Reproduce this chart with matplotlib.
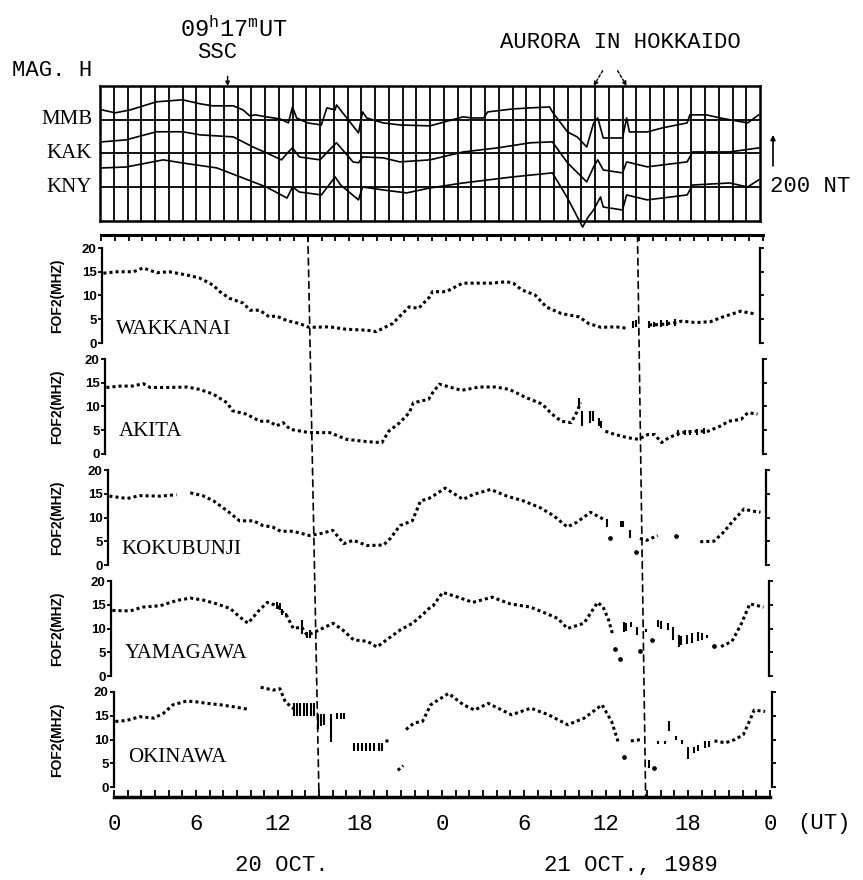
import numpy as np
import matplotlib
matplotlib.use("Agg")
import matplotlib.pyplot as plt
from matplotlib.patches import ConnectionPatch

nan = np.nan

# ---- magnetogram H traces (hours from 20 Oct 00 UT, deviation in nT) ----
mmb_h = [0.15, 1.1, 2.2, 4.1, 6.0, 7.3, 8.2, 9.7, 10.4, 10.9, 11.3, 12.1, 13.1, 13.7, 14.0, 14.3,
         15.1, 16.1, 16.5, 17.1, 17.2, 18.8, 19.1, 19.4, 20.6, 21.8, 24.0, 26.4, 27.1, 27.9, 28.2,
         30.0, 31.3, 32.7, 32.9, 34.0, 34.7, 35.4, 35.9, 36.2, 36.6, 38.0, 38.3, 38.5, 39.8, 40.9,
         42.7, 42.9, 44.1, 45.1, 47.1, 47.9]
mmb_nt = [0, -19, 0, 52, 65, 39, 26, 26, 0, -39, -32, -45, -58, -84, 19, -52,
          -84, -97, 13, 0, 32, -148, -13, -52, -84, -97, -103, -45, -52, -52, -13,
          6, 13, 19, -13, -142, -174, -239, -84, -52, -181, -181, -52, -142, -142, -116,
          -84, -32, -32, -52, -84, -32]
kak_h = [0.15, 1.9, 4.1, 6.0, 7.3, 9.7, 11.1, 12.1, 13.2, 13.7, 14.0, 14.5, 16.0, 16.9, 17.2,
         18.4, 18.8, 19.1, 20.6, 21.8, 24.0, 26.4, 28.9, 31.3, 32.9, 34.0, 35.4, 35.9, 36.2, 36.6,
         38.0, 38.3, 39.8, 42.7, 43.1, 45.8, 47.9]
kak_nt = [0, 13, 65, 65, 45, 32, -32, -71, -116, -65, -39, -97, -116, -32, -6,
          -129, -135, -97, -103, -129, -116, -65, -39, -6, 0, -135, -258, -161, -116, -181,
          -200, -129, -161, -129, -65, -65, -39]
kny_h = [0.15, 1.9, 4.6, 6.0, 8.5, 10.2, 12.1, 13.6, 14.0, 14.5, 16.1, 17.1, 17.5, 18.8, 19.1,
         20.6, 22.3, 24.0, 26.4, 30.0, 32.9, 34.0, 35.1, 35.5, 35.9, 36.4, 36.6, 38.0, 38.3, 39.8,
         42.7, 43.1, 45.8, 47.1, 47.9]
kny_nt = [0, 6, 52, 32, 0, -58, -123, -194, -123, -155, -174, -58, -110, -206, -123,
          -142, -161, -129, -97, -58, -32, -194, -381, -316, -271, -187, -252, -271, -174, -206,
          -174, -110, -97, -123, -77]

mag_names = ["MMB", "KAK", "KNY"]

# ---- foF2 (MHz) per station ----
stations = ["WAKKANAI", "AKITA", "KOKUBUNJI", "YAMAGAWA", "OKINAWA"]

wak_h = [0.1, 1.1, 2.3, 3.0, 4.0, 4.9, 6.2, 7.1, 8.1, 8.6, 9.3, 10.3, 10.8, 11.5, 12.2, 12.7, 13.5,
         14.4, 15.1, 16.6, 17.8, 19.3, 20.0, 21.2, 22.4, 23.1, 23.9, 24.1, 25.1, 26.3, 27.5, 28.4,
         29.5, 30.0, 30.6, 31.6, 32.4, 33.5, 34.8, 35.5, 36.4, 37.5, 38.3, 38.6, 39.3, 39.9, 40.8,
         41.8, 42.3, 43.3, 44.4, 45.2, 46.6, 47.1, 47.7]
wak_v = [14.7, 15.0, 15.0, 15.8, 14.8, 15.0, 14.3, 13.7, 12.2, 10.8, 9.4, 8.4, 6.9, 6.9, 5.5, 5.7, 4.7,
         4.1, 3.3, 3.4, 2.9, 2.7, 2.4, 4.1, 7.6, 7.3, 9.7, 10.8, 10.8, 12.6, 12.6, 12.6,
         12.9, 12.6, 11.2, 10.1, 7.6, 6.2, 5.5, 4.1, 3.3, 3.4, 3.1, nan, nan, 3.8, 3.9,
         4.3, 4.6, 4.3, 4.5, 5.4, 6.7, 6.4, 6.1]
wak_bars = [(38.7, 3.2, 4.6), (38.95, 3.3, 4.8), (39.9, 3.2, 4.6), (40.3, 3.3, 4.5),
            (40.8, 3.4, 4.9), (41.2, 3.5, 4.8), (41.8, 3.6, 5.0)]
wak_dots = []

aki_h = [0.1, 1.1, 2.0, 2.8, 3.3, 4.5, 6.0, 6.9, 7.9, 8.9, 9.3, 10.3, 11.3, 12.0, 12.5, 13.0, 13.5,
         14.9, 16.4, 17.6, 19.1, 20.2, 20.7, 21.5, 22.2, 22.5, 23.6, 23.9, 24.4, 26.0, 27.3, 28.5,
         29.5, 30.7, 31.9, 32.6, 33.3, 34.0, 34.4, 34.7, 35.5, 36.5, 37.2, 38.2, 38.9, 39.6, 40.1,
         40.6, 41.1, 42.0, 43.0, 44.0, 44.9, 45.5, 46.4, 46.9, 47.6]
aki_v = [14.0, 14.3, 14.3, 14.8, 14.0, 14.0, 14.1, 13.6, 12.6, 10.8, 9.1, 8.4, 6.9, 6.9, 5.9, 6.6, 5.2,
         4.5, 4.5, 3.1, 2.6, 2.4, 4.8, 6.6, 8.7, 10.8, 11.5, 12.9, 14.7, 13.4, 14.1, 14.1,
         13.6, 11.9, 10.5, 8.4, 6.9, 6.6, 8.7, 10.8, nan, 4.8, 4.1, 3.4, 3.1, 4.1, 4.1,
         2.4, 3.4, 4.5, 4.8, 4.8, 5.9, 6.9, 7.3, 8.7, 8.4]
aki_bars = [(34.6, 10.0, 11.8), (34.8, 5.9, 9.1), (35.4, 6.5, 9.1), (35.6, 7.0, 9.0),
            (36.0, 5.8, 7.5), (36.2, 5.5, 7.0), (41.8, 3.8, 5.0), (42.3, 3.9, 5.0),
            (42.7, 4.0, 5.1), (43.2, 4.0, 5.2), (43.7, 4.2, 5.4)]
aki_dots = []

kok_h = [0.1, 1.4, 2.3, 3.8, 5.0, 5.5, 6.0, 6.9, 7.7, 8.7, 9.6, 10.6, 11.3, 12.0, 12.6, 13.5, 14.7,
         15.5, 16.4, 17.2, 17.9, 18.9, 20.1, 20.6, 21.3, 22.2, 22.8, 23.4, 23.7, 24.6, 25.9, 26.6,
         27.9, 29.1, 30.3, 31.5, 32.5, 33.5, 34.2, 35.2, 36.1, 37.0, 38.8, 39.3, 40.1, 41.0, 43.2,
         44.2, 44.9, 45.6, 46.4, 46.9, 47.6]
kok_v = [14.5, 14.0, 14.6, 14.5, 14.8, nan, 15.2, 14.6, 13.5, 11.4, 9.3, 9.3, 8.3, 8.0, 7.1, 7.1, 6.2,
         6.6, 7.3, 4.5, 5.2, 4.1, 4.2, 5.6, 8.3, 9.3, 13.5, 14.0, 14.5, 16.2, 13.8, 14.8,
         15.9, 14.5, 13.5, 12.1, 10.4, 8.0, 9.0, 11.1, 9.7, nan, 5.6, 5.2, 6.2, nan, 4.9,
         5.0, 6.9, 9.3, 11.8, 11.4, 11.1]
kok_bars = [(36.4, 7.9, 9.6), (37.4, 7.9, 9.3), (37.55, 7.9, 9.3), (38.1, 5.6, 7.3)]
kok_dots = [(36.6, 5.6), (38.5, 2.7), (41.4, 6.2)]

yam_h = [0.1, 1.4, 2.3, 3.6, 4.8, 5.8, 6.7, 7.7, 8.7, 9.4, 10.0, 10.7, 11.4, 12.1, 12.5, 12.8, 13.3,
         13.9, 14.3, 14.9, 16.2, 16.9, 17.7, 18.7, 19.4, 20.1, 21.1, 22.0, 22.8, 23.3, 23.5, 24.2,
         25.3, 26.4, 27.8, 29.1, 30.6, 31.8, 32.6, 33.3, 34.5, 35.5, 35.9, 36.3, 36.6, 40.0, 44.5,
         45.3, 46.0, 46.6, 47.6]
yam_v = [13.8, 13.7, 14.5, 14.8, 15.9, 16.4, 16.0, 15.2, 14.2, 12.4, 11.1, 13.5, 15.5, 14.8, 13.5, 12.8, 10.0,
         10.3, 8.6, 9.3, 11.1, 9.7, 7.6, 7.3, 6.1, 7.6, 9.7, 11.1, 13.1, 14.5, 14.8, 17.6,
         16.6, 15.5, 16.6, 15.2, 14.5, 13.1, 12.1, 10.0, 11.1, 15.5, 14.5, 11.8, 8.7, nan, 6.2,
         7.3, 11.1, 15.2, 14.5]
yam_bars = [(12.1, 14.2, 15.5), (12.3, 13.8, 15.3), (12.5, 12.8, 14.2), (12.8, 12.4, 13.3),
            (13.9, 8.8, 11.8), (14.3, 7.9, 9.3), (14.5, 8.0, 9.6),
            (37.4, 9.3, 11.3), (37.6, 9.5, 11.2), (37.9, 10.3, 11.3), (38.4, 8.7, 10.3),
            (39.0, 9.3, 10.0), (39.9, 10.3, 11.8), (40.1, 10.0, 11.6), (40.6, 9.7, 11.1),
            (41.0, 7.6, 10.3), (41.4, 6.1, 8.7), (41.6, 6.5, 8.5), (42.0, 6.8, 8.7),
            (42.4, 7.0, 9.0), (42.8, 7.3, 9.3), (43.1, 7.5, 9.0), (43.5, 8.0, 8.7)]
yam_dots = [(36.8, 5.6), (37.1, 3.6), (38.6, 5.2), (39.5, 7.6), (44.0, 6.4)]

oki_h = [0.1, 0.9, 1.9, 2.9, 3.6, 4.3, 5.3, 6.1, 6.8, 7.8, 8.7, 9.7, 10.2, 10.7, 11.6, 12.1, 12.5,
         13.1, 13.5, 19.8, 20.2, 20.4, 20.7, 21.1, 21.2, 21.3, 21.9, 22.5, 22.8, 23.1, 24.4, 25.5,
         26.3, 27.3, 29.0, 30.4, 31.7, 33.1, 34.3, 35.6, 36.3, 36.8, 37.1, 37.7, 38.5, 40.0, 43.8,
         44.6, 45.3, 45.9, 46.3, 46.7, 47.5]
oki_v = [13.8, 14.0, 14.8, 14.5, 15.5, 17.3, 18.1, 17.9, 17.6, 17.3, 16.9, 16.4, nan, 21.0, 20.4, 20.7, 17.9,
         16.5, nan, 9.7, 9.7, nan, 3.5, 4.5, nan, 12.1, 13.5, 13.8, 15.5, 17.3, 19.7, 17.3,
         16.2, 17.6, 15.2, 16.6, 15.2, 13.1, 14.5, 17.3, 13.8, 9.3, nan, 9.7, 10.0, nan, 9.7,
         9.3, 10.0, 11.0, 13.5, 16.2, 15.9]
oki_bars = [(13.1, 14.9, 17.7), (13.35, 14.9, 17.7), (13.6, 14.9, 17.7), (13.85, 14.9, 17.7),
            (14.1, 14.9, 17.7), (14.35, 14.9, 17.7), (14.6, 14.9, 17.7), (14.9, 12.3, 15.3),
            (15.1, 12.8, 15.3), (15.35, 13.0, 15.3), (15.8, 9.5, 15.3), (16.3, 14.4, 15.5),
            (16.55, 14.4, 15.5), (16.8, 14.4, 15.5),
            (17.5, 7.6, 9.3), (17.8, 7.6, 9.3), (18.1, 7.6, 9.3), (18.4, 7.6, 9.3),
            (18.7, 7.6, 9.3), (19.0, 7.6, 9.3), (19.3, 7.6, 9.3), (19.55, 7.6, 9.3),
            (39.0, 4.1, 5.6), (39.7, 9.0, 9.7), (40.2, 9.0, 9.7), (40.5, 11.7, 13.8),
            (41.0, 10.0, 10.7), (41.4, 9.0, 10.0), (41.9, 5.8, 8.5), (42.3, 7.1, 8.5),
            (42.6, 7.6, 8.8), (43.1, 8.2, 9.7), (43.4, 8.5, 9.7)]
oki_dots = [(37.2, 6.4), (39.4, 3.9)]

fof2_h = [wak_h, aki_h, kok_h, yam_h, oki_h]
fof2_v = [wak_v, aki_v, kok_v, yam_v, oki_v]
fof2_bars = [wak_bars, aki_bars, kok_bars, yam_bars, oki_bars]
fof2_dots = [wak_dots, aki_dots, kok_dots, yam_dots, oki_dots]
label_v = [2.9, 4.8, 3.3, 4.7, 6.2]

ssc_hour = 9.28
aurora_hours = [35.9, 38.3]
marker_hours = [15.0, 38.9]
hour_ticks = list(range(0, 49, 6))
hour_labels = ["0", "6", "12", "18", "0", "6", "12", "18", "0"]

# ---- layout ----
W, H = 863, 880
fig = plt.figure(figsize=(W / 100, H / 100), dpi=100)
MONO = "Liberation Mono"
SERIF = "Liberation Serif"
SANS = "Liberation Sans"


def px_axes(left, top, right, bottom):
    return fig.add_axes([left / W, 1 - bottom / H, (right - left) / W, (bottom - top) / H])


def ftext(x, y, s, **kw):
    return fig.text(x / W, 1 - y / H, s, **kw)


# magnetogram
mag = px_axes(100, 86, 760, 221)
mag.set_xlim(0, 48)
mag.set_ylim(0, 870)
row = 870 / 4
for k in range(1, 48):
    mag.axvline(k, color="k", lw=1.3)
for k in range(1, 4):
    mag.axhline(k * row, color="k", lw=1.3)
for s in mag.spines.values():
    s.set_linewidth(1.8)
mag.set_xticks([])
mag.set_yticks([])
bases = [716, 510, 342]
for hrs, dh, base in zip([mmb_h, kak_h, kny_h], [mmb_nt, kak_nt, kny_nt], bases):
    mag.plot(hrs, base + np.array(dh), color="k", lw=1.2, clip_on=False)
for k, name in enumerate(mag_names):
    mag.text(-0.012, (3 - k) * row, name, transform=mag.get_yaxis_transform(),
             ha="right", va="center", fontsize=15, family=SERIF)

arrow = dict(arrowstyle="-|>", color="k", lw=1.0, mutation_scale=6, shrinkA=0, shrinkB=0)
mag.annotate("", xy=(ssc_hour, 870), xytext=(0, 7), textcoords="offset points",
             arrowprops=arrow, annotation_clip=False)
for hr, dx in zip(aurora_hours, [6.5, -6.5]):
    mag.annotate("", xy=(hr, 870), xytext=(dx, 11), textcoords="offset points",
                 arrowprops=dict(arrowstyle="-|>", color="k", lw=1.0, ls=(0, (2, 1.5)),
                                 mutation_scale=6, shrinkA=0, shrinkB=0),
                 annotation_clip=False)
mag.annotate("", xy=(1.0197, 355 + 200), xytext=(1.0197, 355),
             xycoords=("axes fraction", "data"), textcoords=("axes fraction", "data"),
             arrowprops=dict(arrowstyle="-|>", color="k", lw=1.2, mutation_scale=7,
                             shrinkA=0, shrinkB=0), annotation_clip=False)

ftext(12, 70, "MAG. H", fontsize=16, family=MONO, va="center")
plt.rcParams["mathtext.fontset"] = "custom"
plt.rcParams["mathtext.tt"] = MONO
ftext(234, 29, r"$\mathtt{09^{h}17^{m}UT}$", fontsize=17, ha="center", va="center")
ftext(217, 52, "SSC", fontsize=16, family=MONO, ha="center", va="center")
ftext(620, 43, "AURORA IN HOKKAIDO", fontsize=16, family=MONO, ha="center", va="center")
ftext(770, 187, "200 NT", fontsize=16, family=MONO, va="center")

# foF2 panels
zero_px = [343, 454, 565, 676, 787]
left_px = [102, 105, 108, 111, 114]
for i, name in enumerate(stations):
    ax = px_axes(left_px[i], zero_px[i] - 95, left_px[i] + 658, zero_px[i])
    ax.set_xlim(0, 48)
    ax.set_ylim(0, 20)
    ax.patch.set_visible(False)
    ax.spines["top"].set_visible(False)
    ax.spines["bottom"].set_visible(False)
    ax.spines["left"].set_linewidth(1.6)
    ax.spines["right"].set_linewidth(1.6)
    ax.set_xticks([])
    ax.set_yticks([0, 5, 10, 15, 20])
    ax.tick_params(axis="y", direction="out", length=3, width=1.3, left=True, right=True,
                   labelsize=9.5, pad=1)
    for lab in ax.get_yticklabels():
        lab.set_family(SANS)
        lab.set_fontweight("bold")
    ax.plot(fof2_h[i], fof2_v[i], color="k", lw=2.2, ls=(0, (1.0, 1.0)), clip_on=False)
    if fof2_bars[i]:
        bh, blo, bhi = zip(*fof2_bars[i])
        ax.vlines(bh, blo, bhi, color="k", lw=1.5, clip_on=False)
    if fof2_dots[i]:
        dh, dv = zip(*fof2_dots[i])
        ax.plot(dh, dv, "o", color="k", ms=2.4, clip_on=False)
    ax.text(1.0, label_v[i], name, fontsize=15, family=SERIF, va="center")
    ftext(57, zero_px[i] - 47, "FOF2(MHZ)", rotation=90, fontsize=10, fontweight="bold",
          family=SANS, ha="center", va="center")

# top tick line and bottom time axis
top = px_axes(101, 235, 763, 240)
top.patch.set_visible(False)
for s in ["left", "right", "bottom"]:
    top.spines[s].set_visible(False)
top.spines["top"].set_linewidth(2.2)
top.set_xlim(0, 48)
top.set_yticks([])
top.set_xticks(range(49))
top.xaxis.tick_top()
top.tick_params(axis="x", direction="in", length=4, width=1.3, labeltop=False)

bot = px_axes(114, 790, 770, 797)
bot.patch.set_visible(False)
for s in ["left", "right", "top"]:
    bot.spines[s].set_visible(False)
bot.spines["bottom"].set_linewidth(2.5)
bot.set_xlim(0, 48)
bot.set_yticks([])
bot.set_xticks(hour_ticks)
bot.set_xticklabels(hour_labels, family=MONO, fontsize=16)
bot.set_xticks(range(49), minor=True)
bot.tick_params(axis="x", which="both", direction="in", length=5, width=1.3, pad=12)

for t in marker_hours:
    con = ConnectionPatch(xyA=(t, 1), coordsA=top.get_xaxis_transform(),
                          xyB=(t, 0), coordsB=bot.get_xaxis_transform(),
                          color="k", lw=1.2, ls=(0, (4, 3)))
    fig.add_artist(con)

ftext(797, 823, "(UT)", fontsize=16, family=MONO, va="center")
ftext(282, 865, "20 OCT.", fontsize=16, family=MONO, ha="center", va="center")
ftext(631, 865, "21 OCT., 1989", fontsize=16, family=MONO, ha="center", va="center")

fig.savefig("out.png", dpi=100)
